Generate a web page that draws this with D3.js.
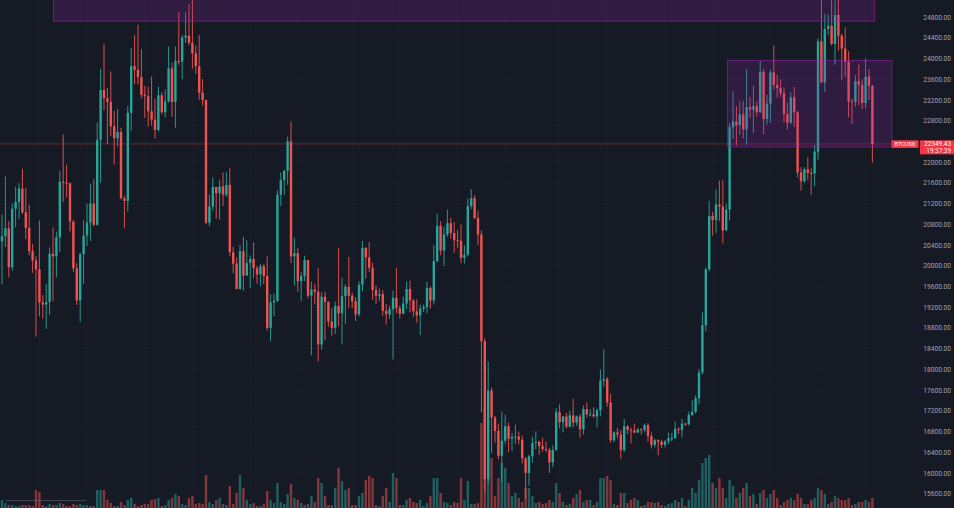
<!DOCTYPE html>
<html><head><meta charset="utf-8">
<script src="https://cdn.jsdelivr.net/npm/d3@7"></script>
<style>html,body{margin:0;padding:0;background:#161a25;overflow:hidden}svg{display:block}</style>
</head><body><svg id="c" width="954" height="508"></svg>
<script>
// ---- data: BTCUSD daily candles, 2022-06-20 .. 2023-03-03 ----
const symbol = "BTCUSD";
const firstDay = "2022-06-20";
const lastPrice = 22349.43;
const countdown = "19:37:39";
const yTicks = [15600,16000,16400,16800,17200,17600,18000,18400,18800,19200,19600,20000,20400,20800,21200,21600,22000,22800,23200,23600,24000,24400,24800];

const opens = [20470,20570,20720,19970,21100,21230,21490,21030,20730,20280,
20100,19930,19290,19250,19300,20230,20180,20550,21620,21600,
21590,20850,19950,19330,20220,20580,20830,21200,20790,22430,
23390,23230,23160,22690,22460,22580,21300,21250,22950,23850,
23780,23640,23300,23270,22980,22820,22620,23290,22960,23170,
23810,23160,23950,23940,24400,24440,24300,24100,23850,23340,
23200,20830,21140,21520,21400,21530,21370,21560,20260,20040,
19550,20280,19810,20050,20130,19950,19830,19990,19800,18800,
19290,19320,21370,21650,21830,22400,20180,20240,19700,19800,
20110,19420,19540,19500,18480,19400,19300,18920,18800,19220,
19080,19410,19590,19420,19310,19060,19630,20340,20160,19960,
19530,19420,19450,19130,19060,19160,19380,19180,19070,19270,
19550,19330,19120,19040,19170,19200,19570,19330,20090,20770,
20290,20600,20820,20630,20490,20480,20150,20210,21150,21300,
20920,20600,18540,15880,17590,17070,16810,16330,16620,16900,
16660,16690,16700,16640,16280,16000,16320,16580,16600,16520,
16460,16440,16200,16440,17170,16980,17090,16890,17110,16970,
17090,16840,17230,17130,17130,17090,17210,17780,17810,17360,
16630,16780,16740,16440,16900,16830,16820,16780,16840,16830,
16920,16710,16540,16630,16600,16540,16610,16670,16670,16850,
16830,16950,16940,17120,17180,17440,17940,18850,19930,20960,
20880,21180,21140,20680,21080,22670,22780,22710,22920,22630,
23060,23010,23080,22960,23740,22830,23130,23730,23490,23430,
23330,22930,22760,23250,22960,21800,21630,21860,21790,21780,
22200,24330,23540,24570,24630,24280,24840,24440,24190,23940,
23170,23160,23560,23490,23140,23650,23470];

const highs = [20990,21720,20860,21200,21520,21590,21870,21500,21180,20420,
20180,20870,19430,19650,20350,20740,20660,21830,22530,21950,
21600,20880,20050,20250,20880,21200,21580,21670,22760,23800,
24280,23430,23750,22990,23020,22660,21350,23080,24200,24450,
24650,24180,23470,23450,23650,23220,23460,23350,23400,24230,
23920,24230,24900,24450,24890,25040,25220,24250,24450,23600,
23200,21370,21700,21520,21660,21800,21800,21880,20360,20150,
20400,20560,20490,20200,20450,20000,20030,20040,20180,19450,
19460,21450,21800,21850,22490,22780,20540,20340,19880,20190,
20110,19690,19640,19950,19490,19500,19310,19180,19310,20340,
19770,19640,20170,19480,19390,19700,20480,20360,20460,20060,
19620,19560,19530,19260,19230,19520,19960,19230,19400,19690,
19710,19360,19350,19250,19250,19690,19600,20400,21000,20860,
20750,21080,20920,20840,20690,20800,20390,21300,21480,21360,
21060,20680,18600,18150,17650,17100,16950,17180,17120,16970,
16770,16930,16800,16720,16300,16350,16700,16800,16620,16680,
16600,16480,16530,17250,17320,17100,17160,17200,17430,17110,
17140,17300,17360,17230,17270,17240,18000,18390,17850,17530,
16800,16870,16820,17040,16920,16870,16950,16860,16860,16940,
16960,16780,16660,16650,16640,16630,16780,16770,16990,16880,
17040,16970,17180,17400,17500,18000,19100,19960,21250,21040,
21470,21640,21650,21190,22750,23370,23080,23170,23180,23800,
23260,23480,23170,23950,23800,23300,23780,24250,23680,23590,
23440,23150,23350,23450,22990,21900,21900,22090,21880,22330,
24380,25250,24860,24850,25190,25120,25270,24480,24600,24140,
23220,23680,23880,23600,24000,23790,23490];

const lows = [19640,20360,19770,19900,20740,20900,21000,20510,20200,19860,
18630,19020,18980,18780,19050,19310,19780,20260,21230,21320,
20660,19880,19240,18920,19650,20380,20480,20760,20770,21600,
23000,22350,22500,21950,22300,21280,20720,21050,22600,23500,
23500,23230,22850,22680,22700,22450,22590,22920,22860,23150,
22870,22660,23880,23600,24300,24250,23800,23700,23200,23090,
20800,20760,21060,20910,20890,21150,21330,20180,19850,19540,
19540,19520,19800,19570,19760,19650,19600,19640,18750,18540,
19020,19300,21150,21360,21560,20050,19620,19500,19320,19700,
19370,18270,19250,18150,18380,18560,18820,18650,18680,18830,
18480,18880,19180,19180,18930,19020,19500,19750,19880,19340,
19260,19320,19030,18860,18970,18190,19080,18980,19060,19160,
19100,19010,18900,18660,19110,19080,19170,19250,20060,20200,
20000,20560,20520,20250,20340,20050,20040,20180,21090,20900,
20400,17170,15650,15800,16380,16580,16260,15830,16560,16400,
16420,16560,16550,16180,15500,15750,16200,16460,16350,16410,
16400,16000,16110,16430,16860,16780,16860,16880,16880,16910,
16680,16740,17070,17090,17070,16880,17090,17660,17280,16580,
16590,16670,16270,16400,16750,16570,16760,16770,16740,16780,
16600,16470,16490,16340,16480,16490,16550,16610,16660,16750,
16680,16910,16910,17100,17150,17320,17900,18730,19890,20580,
20630,20860,20430,20670,20870,22440,22320,22520,22460,22330,
22850,22560,22880,22950,22540,22720,22760,23400,23240,23260,
22770,22630,22730,22680,21700,21450,21600,21650,21370,21530,
22050,23520,23350,24450,24250,23880,24150,23580,23640,22860,
22740,23070,23100,23030,23030,23200,21990];

const closes = [20570,20720,19970,21100,21230,21490,21030,20730,20280,20100,
19930,19290,19250,19300,20230,20180,20550,21620,21600,21590,
20850,19950,19330,20220,20580,20830,21200,20790,22430,23390,
23230,23160,22690,22460,22580,21300,21250,22950,23850,23780,
23640,23300,23270,22980,22820,22620,23290,22960,23170,23810,
23160,23950,23940,24400,24440,24300,24100,23850,23340,23200,
20830,21140,21520,21400,21530,21370,21560,20260,20040,19550,
20280,19810,20050,20130,19950,19830,19990,19800,18800,19290,
19320,21370,21650,21830,22400,20180,20240,19700,19800,20110,
19420,19540,19500,18480,19400,19300,18920,18800,19220,19080,
19410,19590,19420,19310,19060,19630,20340,20160,19960,19530,
19420,19450,19130,19060,19160,19380,19180,19070,19270,19550,
19330,19120,19040,19170,19200,19570,19330,20090,20770,20290,
20600,20820,20630,20490,20480,20150,20210,21150,21300,20920,
20600,18540,15880,17590,17070,16810,16330,16620,16900,16660,
16690,16700,16640,16280,16000,16320,16580,16600,16520,16460,
16440,16200,16440,17170,16980,17090,16890,17110,16970,17090,
16840,17230,17130,17130,17090,17210,17780,17810,17360,16630,
16780,16740,16440,16900,16830,16820,16780,16840,16830,16920,
16710,16540,16630,16600,16540,16610,16670,16670,16850,16830,
16950,16940,17120,17180,17440,17940,18850,19930,20960,20880,
21180,21140,20680,21080,22670,22780,22710,22920,22630,23060,
23010,23080,22960,23740,22830,23130,23730,23490,23430,23330,
22930,22760,23250,22960,21800,21630,21860,21790,21780,22200,
24330,23540,24570,24630,24280,24840,24440,24190,23940,23170,
23160,23560,23490,23140,23650,23470,22349.43];

const volumes = [8,5,3,3,2,2,3,3,3,2,
18,16,3,2,4,3,3,5,4,2,
2,4,3,4,3,3,2,2,18,18,
18,8,5,2,2,6,3,8,10,4,
2,3,4,4,8,9,10,2,3,8,
10,14,12,4,3,10,12,4,5,4,
33,6,4,8,10,4,3,22,4,15,
33,20,8,4,5,2,2,4,17,8,
5,25,6,4,14,24,10,8,5,3,
4,12,6,30,25,12,3,3,20,40,
27,18,20,3,3,12,15,28,32,30,
3,2,12,20,6,35,30,3,3,8,
10,6,5,8,2,5,12,30,30,15,
6,5,3,6,5,30,8,27,4,4,
5,85,100,55,50,12,30,45,40,25,
12,15,10,6,20,20,12,5,6,4,
5,8,6,25,15,6,3,4,10,14,
18,6,8,8,3,6,30,30,32,28,
4,3,15,15,5,8,10,8,2,3,
6,6,5,6,3,2,4,5,8,6,
10,2,8,20,15,28,45,50,53,25,
20,30,20,10,28,22,10,15,20,25,
12,14,4,15,18,10,14,18,10,3,
6,8,10,8,14,10,4,4,8,10,
20,18,14,4,6,12,10,8,8,10,
3,4,6,6,8,6,10];

// drawn rectangles (time / price coordinates)
const zoneStarts = ["2022-07-05T00:00Z","2023-01-19T06:00Z"];
const zoneEnds   = ["2023-03-03T12:00Z","2023-03-08T14:00Z"];
const zoneLows   = [24730, 22300];
const zoneHighs  = [25700, 23970];

// ---- chart ----
const W = 954, H = 508;
const svg = d3.select("#c");
const n = closes.length;
const t0 = new Date(firstDay + "T00:00Z");
const dates = d3.range(n).map(i => d3.utcDay.offset(t0, i));
const candles = dates.map((d, i) => ({d, o: opens[i], h: highs[i], l: lows[i], c: closes[i], v: volumes[i]}));

const x = d3.scaleUtc().domain([dates[0], dates[n - 1]]).range([2, 872.4]);
const y = d3.scaleLinear().domain([15600, 24800]).range([493.6, 17]);
const vy = d3.scaleLinear().domain([0, 100]).range([H, H - 100]);
const bw = 2.4;
const up = "#26a69a", dn = "#ef5350";

svg.append("rect").attr("width", W).attr("height", H).attr("fill", "#161a25");

// grid
const grid = svg.append("g");
grid.selectAll("line.h").data(yTicks.concat([22400])).join("line")
  .attr("x1", 0).attr("x2", 890).attr("y1", d => y(d)).attr("y2", d => y(d))
  .attr("stroke", "#1b1f2c").attr("stroke-width", 1);
const vDates = d3.utcDay.range(dates[0], d3.utcDay.offset(dates[n - 1], 8)).filter(d => d.getUTCDate() === 1 || d.getUTCDate() === 15);
grid.selectAll("line.v").data(vDates).join("line")
  .attr("x1", d => x(d)).attr("x2", d => x(d)).attr("y1", 0).attr("y2", H)
  .attr("stroke", "#1b1f2c").attr("stroke-width", 1);

// volume
svg.append("g").selectAll("rect").data(candles).join("rect")
  .attr("x", d => x(d.d) - bw / 2).attr("width", bw)
  .attr("y", d => vy(d.v)).attr("height", d => H - vy(d.v))
  .attr("fill", d => d.c >= d.o ? up : dn).attr("fill-opacity", 0.5);

// price line
svg.append("line").attr("x1", 0).attr("x2", 890)
  .attr("y1", y(lastPrice)).attr("y2", y(lastPrice))
  .attr("stroke", "#f23645").attr("stroke-opacity", 0.4).attr("stroke-width", 1);

// candles
const cg = svg.append("g");
cg.selectAll("line").data(candles).join("line")
  .attr("x1", d => x(d.d)).attr("x2", d => x(d.d))
  .attr("y1", d => y(d.h)).attr("y2", d => y(d.l))
  .attr("stroke", d => d.c >= d.o ? up : dn).attr("stroke-width", 0.9);
cg.selectAll("rect").data(candles).join("rect")
  .attr("x", d => x(d.d) - bw / 2).attr("width", bw)
  .attr("y", d => y(Math.max(d.o, d.c)))
  .attr("height", d => Math.max(1, Math.abs(y(d.o) - y(d.c))))
  .attr("fill", d => d.c >= d.o ? up : dn);

// zones
svg.append("g").selectAll("rect").data(d3.range(zoneStarts.length)).join("rect")
  .attr("x", i => x(new Date(zoneStarts[i])) + 0.5)
  .attr("width", i => x(new Date(zoneEnds[i])) - x(new Date(zoneStarts[i])))
  .attr("y", i => y(zoneHighs[i]) + 0.5)
  .attr("height", i => y(zoneLows[i]) - y(zoneHighs[i]))
  .attr("fill", "rgb(156,39,176)").attr("fill-opacity", 0.2)
  .attr("stroke", "rgb(156,39,176)").attr("stroke-opacity", 0.55).attr("stroke-width", 1);

// right axis
const ax = svg.append("g").attr("transform", "translate(951,0)")
  .call(d3.axisLeft(y).tickValues(yTicks).tickFormat(d3.format(".2f")).tickSize(0).tickPadding(0));
ax.select(".domain").remove();
ax.selectAll("text").attr("fill", "#a3a6af").attr("font-size", 6.6)
  .attr("font-family", "Roboto, 'Liberation Sans', sans-serif");

// last price labels
const py = y(lastPrice);
svg.append("rect").attr("x", 891.5).attr("y", py - 3.6).attr("width", 27).attr("height", 7.6)
  .attr("rx", 1).attr("fill", "#f23645");
svg.append("text").attr("x", 905).attr("y", py + 0.2).attr("text-anchor", "middle")
  .attr("dominant-baseline", "middle").attr("fill", "#ffffff").attr("font-size", 5.6)
  .attr("font-family", "Roboto, 'Liberation Sans', sans-serif").text(symbol);
svg.append("rect").attr("x", 920).attr("y", py - 3.6).attr("width", 34).attr("height", 14)
  .attr("fill", "#f23645");
svg.append("text").attr("x", 951).attr("y", py + 0.2).attr("text-anchor", "end")
  .attr("dominant-baseline", "middle").attr("fill", "#ffffff").attr("font-size", 6.4)
  .attr("font-family", "Roboto, 'Liberation Sans', sans-serif").text(d3.format(".2f")(lastPrice));
svg.append("text").attr("x", 951).attr("y", py + 6.9).attr("text-anchor", "end")
  .attr("dominant-baseline", "middle").attr("fill", "#ffffff").attr("fill-opacity", 0.9).attr("font-size", 6.4)
  .attr("font-family", "Roboto, 'Liberation Sans', sans-serif").text(countdown);

// faint pane legend line bottom-left
svg.append("line").attr("x1", 6).attr("x2", 86).attr("y1", 500.5).attr("y2", 500.5)
  .attr("stroke", "#787b86").attr("stroke-opacity", 0.45).attr("stroke-width", 1);
</script>
</body></html>
